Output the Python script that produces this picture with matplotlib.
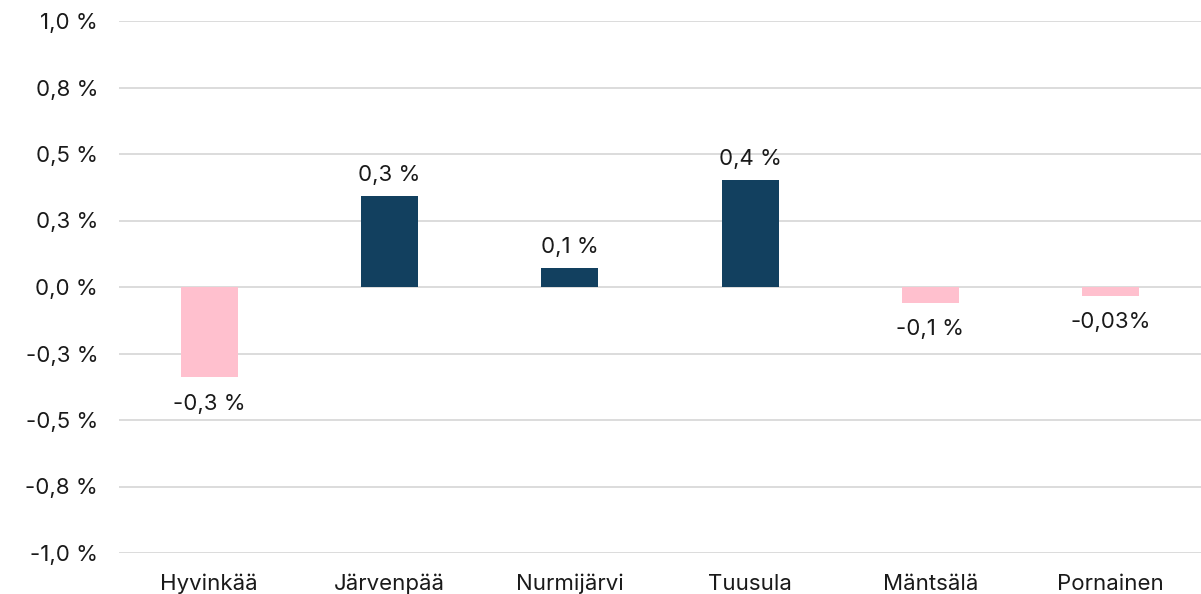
import matplotlib.pyplot as plt
from decimal import Decimal, ROUND_HALF_UP

plt.rcParams['font.family'] = ['Inter', 'DejaVu Sans']

# municipalities and their population change (%)
kunnat = ["Hyvinkää", "Järvenpää", "Nurmijärvi", "Tuusula", "Mäntsälä", "Pornainen"]
muutos = [-0.338, 0.342, 0.072, 0.402, -0.059, -0.033]
tarkkuus = [1, 1, 1, 1, 1, 2]          # decimals shown in the data label
valit = [" ", " ", " ", " ", " ", ""]  # space before the percent sign

y_ticks = [-1.0, -0.75, -0.5, -0.25, 0.0, 0.25, 0.5, 0.75, 1.0]

NAVY = "#12405f"
PINK = "#ffc0ce"


def fi(v, d, sep=" "):
    q = Decimal(1).scaleb(-d)
    s = str(Decimal(str(v)).quantize(q, rounding=ROUND_HALF_UP)).replace(".", ",")
    return s + sep + "%"


fig = plt.figure(figsize=(12.01, 5.94), dpi=100)
ax = fig.add_axes([119 / 1201, 1 - 553 / 594, 1 - 119 / 1201, (553 - 21) / 594])

x = range(len(kunnat))
colors = [NAVY if v >= 0 else PINK for v in muutos]
bars = ax.bar(x, muutos, width=0.315, color=colors, zorder=3)

for b, v, d, sep in zip(bars, muutos, tarkkuus, valit):
    cx = b.get_x() + b.get_width() / 2
    if v >= 0:
        ax.annotate(fi(v, d, sep), (cx, v), xytext=(0, 8), textcoords="offset points",
                    ha="center", va="bottom", fontsize=16, color="#1a1a1a")
    else:
        ax.annotate(fi(v, d, sep), (cx, v), xytext=(0, -12), textcoords="offset points",
                    ha="center", va="top", fontsize=16, color="#1a1a1a")

ax.set_xlim(-0.5, len(kunnat) - 0.5)
ax.set_ylim(-1.0, 1.0)
ax.set_yticks(y_ticks)
ax.set_yticklabels([fi(t, 1) for t in y_ticks])
ax.set_xticks(list(x))
ax.set_xticklabels(kunnat)
ax.tick_params(axis="y", length=0, pad=15, labelsize=16, colors="#1a1a1a")
ax.tick_params(axis="x", length=0, pad=15, labelsize=16, colors="#1a1a1a")

ax.grid(axis="y", color="#d9d9d9", linewidth=1.3, zorder=0)
for s in ax.spines.values():
    s.set_visible(False)

fig.savefig("out.png", dpi=100)
